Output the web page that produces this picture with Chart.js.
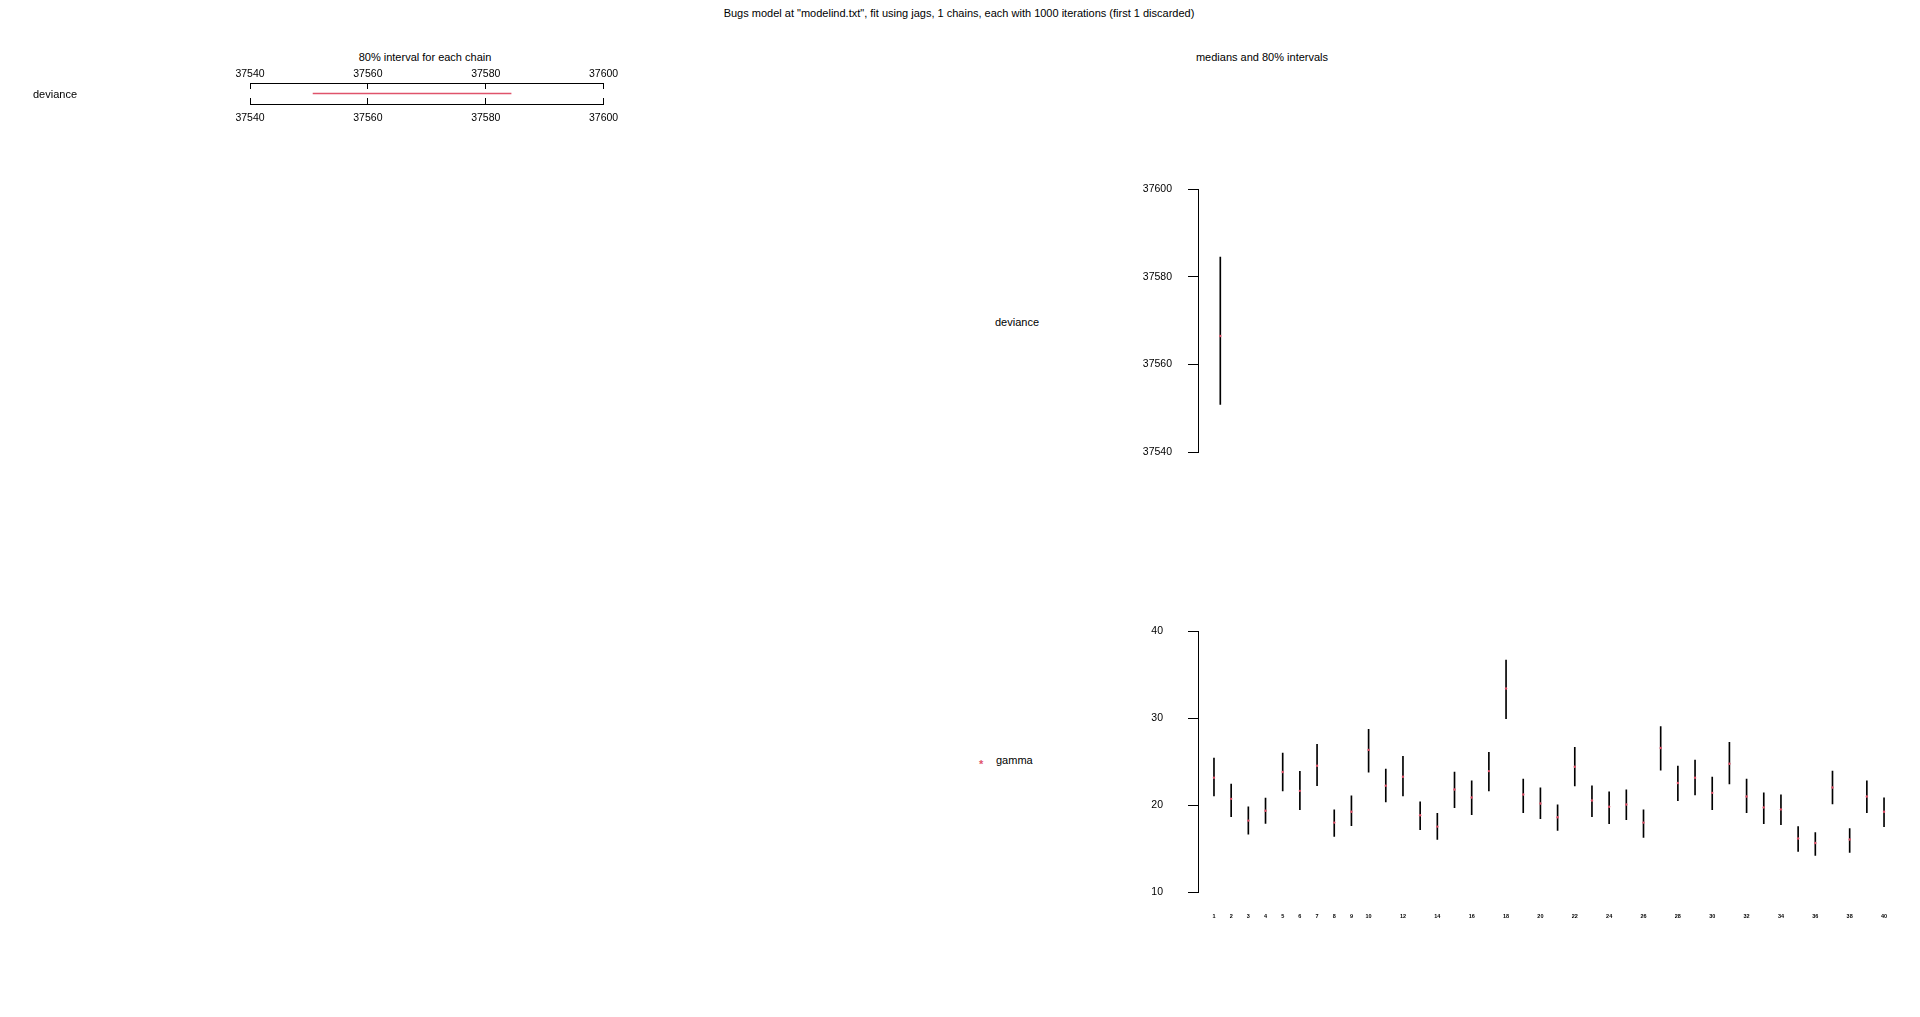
<!DOCTYPE html>
<html>
<head>
<meta charset="utf-8">
<script src="https://cdn.jsdelivr.net/npm/chart.js@4.4.1/dist/chart.umd.min.js"></script>
<style>
  html, body { margin: 0; padding: 0; background: #fff; }
  #wrap { position: relative; width: 1920px; height: 1017px; overflow: hidden; font-family: "Liberation Sans", Arial, sans-serif; color: #000; }
  canvas { position: absolute; }
  .t { position: absolute; font-size: 11px; white-space: nowrap; line-height: 1; }
  .c { transform: translate(-50%, -50%); }
  .l { transform: translate(0, -50%); }
</style>
</head>
<body>
<div id="wrap">
  <div class="t c" style="left:959px;top:13px;">Bugs model at "modelind.txt", fit using jags, 1 chains, each with 1000 iterations (first 1 discarded)</div>
  <div class="t c" style="left:425px;top:57px;">80% interval for each chain</div>
  <div class="t c" style="left:1262px;top:57px;">medians and 80% intervals</div>
  <div class="t l" style="left:995px;top:322px;">deviance</div>
  <div class="t l" style="left:979px;top:764px;color:#DF536B;font-size:11px;font-weight:bold;">*</div>
  <div class="t l" style="left:996px;top:760px;">gamma</div>
  <canvas id="chain" width="700" height="140" style="left:0px;top:0px;width:700px;height:140px;"></canvas>
  <canvas id="dev" width="400" height="320" style="left:960px;top:160px;width:400px;height:320px;"></canvas>
  <canvas id="gam" width="960" height="350" style="left:960px;top:600px;width:960px;height:350px;"></canvas>
</div>
<script>
// ---------------- data ----------------
const chainLabels = ["deviance"];
const chainLow = [37550.7];
const chainHigh = [37584.3];

const devianceLabels = ["deviance"];
const devianceLow = [37550.9];
const devianceMedian = [37566.5];
const devianceHigh = [37584.5];
const devianceTicks = [37540, 37560, 37580, 37600];

const gammaIndex = [1,2,3,4,5,6,7,8,9,10,11,12,13,14,15,16,17,18,19,20,21,22,23,24,25,26,27,28,29,30,31,32,33,34,35,36,37,38,39,40];
const gammaLow = [21.09,18.69,16.68,17.93,21.66,19.49,22.26,16.41,17.67,23.82,20.40,21.09,17.21,16.07,19.72,18.92,21.66,29.97,19.15,18.47,17.10,22.23,18.69,17.90,18.35,16.30,24.05,20.52,21.20,19.49,22.45,19.15,17.90,17.78,14.71,14.25,20.17,14.59,19.15,17.55];
const gammaMedian = [23.18,20.74,18.24,19.38,23.82,21.66,24.54,18.01,19.26,26.37,22.26,23.29,18.85,17.55,21.81,20.90,23.93,33.43,21.24,20.21,18.62,24.43,20.55,19.83,20.10,18.01,26.59,22.57,23.18,21.43,24.77,21.01,19.76,19.53,16.19,15.66,22.04,16.07,21.01,19.26];
const gammaHigh = [25.42,22.45,19.83,20.82,25.99,23.90,27.01,19.49,21.09,28.72,24.16,25.64,20.40,19.07,23.82,22.80,26.10,36.70,23.02,22.00,20.06,26.67,22.23,21.54,21.77,19.49,29.06,24.50,25.19,23.25,27.24,23.02,21.43,21.20,17.55,16.87,23.93,17.33,22.80,20.86];
const gammaYTicks = [10, 20, 30, 40];
const gammaXTicks = [1,2,3,4,5,6,7,8,9,10,12,14,16,18,20,22,24,26,28,30,32,34,36,38,40];

// ---------------- styles ----------------
const RED = "#DF536B";
Chart.defaults.font.family = '"Liberation Sans", Arial, sans-serif';
Chart.defaults.color = "#000";
Chart.defaults.animation = false;
Chart.defaults.plugins.legend.display = false;
Chart.defaults.plugins.tooltip.enabled = false;

const setTicks = (arr) => (scale) => { scale.ticks = arr.map(v => ({ value: v })); };
const plain = (v) => String(v);
const tickFont = { size: 10.5 };

// ---------------- left: 80% interval for each chain ----------------
new Chart(document.getElementById("chain"), {
  type: "bar",
  data: {
    labels: chainLabels,
    datasets: [{
      data: chainLabels.map((_, i) => [chainLow[i], chainHigh[i]]),
      backgroundColor: RED,
      barThickness: 1,
      xAxisID: "x"
    }]
  },
  options: {
    responsive: false,
    devicePixelRatio: 1,
    indexAxis: "y",
    layout: { padding: { left: 33, top: 0, right: 96.4, bottom: 0 } },
    scales: {
      xTop: {
        type: "linear", position: "top", min: 37540, max: 37600,
        afterBuildTicks: setTicks(devianceTicks),
        afterFit: (s) => { s.height = 83; },
        grid: { drawOnChartArea: false, drawTicks: true, tickLength: -6, tickColor: "#000" },
        border: { display: true, color: "#000", width: 1 },
        ticks: { font: tickFont, padding: 9, maxRotation: 0, autoSkip: false, callback: plain }
      },
      x: {
        type: "linear", position: "bottom", min: 37540, max: 37600,
        afterBuildTicks: setTicks(devianceTicks),
        afterFit: (s) => { s.height = 36; },
        grid: { drawOnChartArea: false, drawTicks: true, tickLength: -6, tickColor: "#000" },
        border: { display: true, color: "#000", width: 1 },
        ticks: { font: tickFont, padding: 14, maxRotation: 0, autoSkip: false, callback: plain }
      },
      y: {
        type: "category", position: "left",
        afterFit: (s) => { s.width = 217; },
        grid: { display: false, drawTicks: false },
        border: { display: false },
        ticks: { crossAlign: "far", font: { size: 11 }, padding: 0, labelOffset: 1.5 }
      }
    }
  }
});

// ---------------- right top: deviance ----------------
new Chart(document.getElementById("dev"), {
  type: "bar",
  data: {
    labels: devianceLabels,
    datasets: [
      {
        type: "line",
        data: devianceMedian,
        showLine: false,
        pointRadius: 1.2,
        pointBorderWidth: 0,
        pointBackgroundColor: RED,
        order: 0
      },
      {
        data: devianceLabels.map((_, i) => [devianceLow[i], devianceHigh[i]]),
        backgroundColor: "#000",
        barThickness: 1,
        order: 1
      }
    ]
  },
  options: {
    responsive: false,
    devicePixelRatio: 1,
    layout: { padding: { left: 0, top: 29, right: 117.4, bottom: 27.7 } },
    scales: {
      x: { type: "category", display: false, offset: true },
      y: {
        type: "linear", position: "left", min: 37540, max: 37600,
        afterBuildTicks: setTicks(devianceTicks),
        afterFit: (s) => { s.width = 238; },
        grid: { drawOnChartArea: false, drawTicks: true, tickLength: 10, tickColor: "#000" },
        border: { display: true, color: "#000", width: 1 },
        ticks: { font: tickFont, padding: 16, callback: plain }
      }
    }
  }
});

// ---------------- right bottom: gamma ----------------
new Chart(document.getElementById("gam"), {
  type: "bar",
  data: {
    datasets: [
      {
        type: "line",
        data: gammaIndex.map((x, i) => ({ x: x, y: gammaMedian[i] })),
        showLine: false,
        pointRadius: 1.2,
        pointBorderWidth: 0,
        pointBackgroundColor: RED,
        order: 0
      },
      {
        data: gammaIndex.map((x, i) => ({ x: x, y: [gammaLow[i], gammaHigh[i]] })),
        backgroundColor: "#000",
        barThickness: 1,
        order: 1
      }
    ]
  },
  options: {
    responsive: false,
    devicePixelRatio: 1,
    layout: { padding: { left: 0, top: 29, right: 20.5, bottom: 17.7 } },
    scales: {
      x: {
        type: "linear", position: "bottom", min: 0.07, max: 40.9, offset: false,
        afterBuildTicks: setTicks(gammaXTicks),
        afterFit: (s) => { s.height = 40; },
        grid: { display: false, drawTicks: false },
        border: { display: false },
        ticks: { font: { size: 5.5, weight: "bold" }, padding: 20.4, maxRotation: 0, autoSkip: false, callback: plain }
      },
      y: {
        type: "linear", position: "left", min: 10, max: 40,
        afterBuildTicks: setTicks(gammaYTicks),
        afterFit: (s) => { s.width = 238; },
        grid: { drawOnChartArea: false, drawTicks: true, tickLength: 10, tickColor: "#000" },
        border: { display: true, color: "#000", width: 1 },
        ticks: { font: tickFont, padding: 25, callback: plain }
      }
    }
  }
});
</script>
</body>
</html>
